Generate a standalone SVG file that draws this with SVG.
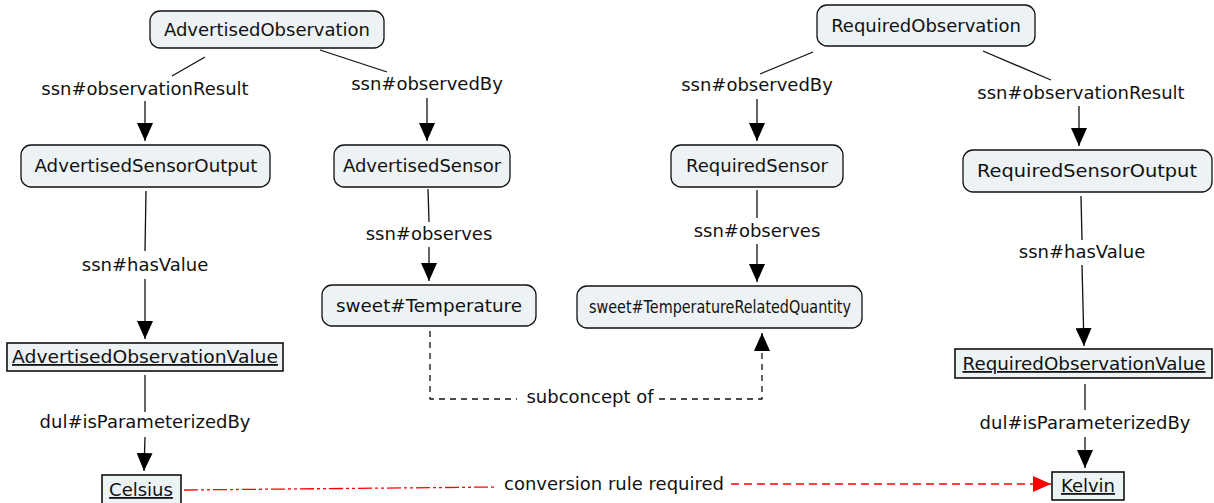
<svg xmlns="http://www.w3.org/2000/svg" width="1214" height="503" viewBox="0 0 1214 503">
<style>
text{font-family:"DejaVu Sans","Verdana",sans-serif;font-size:18px;fill:#111;text-anchor:middle}
.n{fill:#edf2f4;stroke:#111;stroke-width:1.3}
.v{fill:#edf2f4;stroke:#111;stroke-width:1.6}
.u{text-decoration:underline}
.l{stroke:#111;stroke-width:1.3;fill:none}
.d{stroke:#111;stroke-width:1.3;fill:none;stroke-dasharray:6 5}
.rd{stroke:#f00;stroke-width:1.3;fill:none;stroke-dasharray:8 5}
.rdd{stroke:#f00;stroke-width:1.3;fill:none;stroke-dasharray:14 3 3 3 3 3}
</style>
<defs>
<marker id="a" markerWidth="18" markerHeight="16" refX="18" refY="8" orient="auto" markerUnits="userSpaceOnUse"><path d="M0,0 L18,8 L0,16 Z" fill="#000"/></marker>
<marker id="ar" markerWidth="18" markerHeight="16" refX="18" refY="8" orient="auto" markerUnits="userSpaceOnUse"><path d="M0,0 L18,8 L0,16 Z" fill="#f00"/></marker>
</defs>
<g id="connectors">
<line class="l" x1="205" y1="57" x2="172" y2="76"/><text x="145" y="95">ssn#observationResult</text><line class="l" x1="145" y1="101" x2="145" y2="141" marker-end="url(#a)"/>
<line class="l" x1="320" y1="50" x2="387" y2="72"/><text x="427" y="90">ssn#observedBy</text><line class="l" x1="427" y1="98" x2="427" y2="141" marker-end="url(#a)"/>
<line class="l" x1="146" y1="191" x2="145" y2="251"/><text x="145" y="271">ssn#hasValue</text><line class="l" x1="145" y1="279" x2="145" y2="339" marker-end="url(#a)"/>
<line class="l" x1="145" y1="375" x2="145" y2="412"/><text x="145" y="428">dul#isParameterizedBy</text><line class="l" x1="145" y1="437" x2="144" y2="471" marker-end="url(#a)"/>
<line class="l" x1="428" y1="189" x2="429" y2="222"/><text x="429" y="240">ssn#observes</text><line class="l" x1="429" y1="247" x2="429" y2="281" marker-end="url(#a)"/>
<line class="l" x1="813" y1="52" x2="760" y2="74"/><text x="757" y="91">ssn#observedBy</text><line class="l" x1="757" y1="99" x2="757" y2="141" marker-end="url(#a)"/>
<line class="l" x1="983" y1="51" x2="1051" y2="80"/><text x="1081" y="99">ssn#observationResult</text><line class="l" x1="1079" y1="106" x2="1079" y2="146" marker-end="url(#a)"/>
<line class="l" x1="757" y1="190" x2="757" y2="218"/><text x="757" y="237">ssn#observes</text><line class="l" x1="757" y1="244" x2="757" y2="282" marker-end="url(#a)"/>
<line class="l" x1="1081" y1="196" x2="1082" y2="240"/><text x="1082" y="258">ssn#hasValue</text><line class="l" x1="1082" y1="265" x2="1084" y2="346" marker-end="url(#a)"/>
<line class="l" x1="1085" y1="384" x2="1085" y2="410"/><text x="1085" y="429">dul#isParameterizedBy</text><line class="l" x1="1085" y1="437" x2="1085" y2="468" marker-end="url(#a)"/>
<polyline class="d" points="430,331 430,399 517,399"/><text x="590" y="403">subconcept of</text><polyline class="d" points="659,399 762,399 762,333" marker-end="url(#a)"/>
<line class="rdd" x1="184" y1="490" x2="497" y2="487"/><text x="614" y="490">conversion rule required</text><line class="rd" x1="731" y1="484" x2="1051" y2="484" marker-end="url(#ar)"/>
</g>
<g id="AdvertisedObservation"><rect class="n" x="150" y="11" width="234" height="37" rx="10"/><text x="267" y="36">AdvertisedObservation</text></g>
<g id="AdvertisedSensorOutput"><rect class="n" x="21" y="145" width="249" height="42" rx="10"/><text x="146" y="172" textLength="223" lengthAdjust="spacingAndGlyphs">AdvertisedSensorOutput</text></g>
<g id="AdvertisedSensor"><rect class="n" x="334" y="145" width="176" height="42" rx="10"/><text x="422" y="172">AdvertisedSensor</text></g>
<g id="RequiredObservation"><rect class="n" x="817" y="5" width="218" height="41" rx="10"/><text x="926" y="32">RequiredObservation</text></g>
<g id="RequiredSensor"><rect class="n" x="671" y="145" width="172" height="42" rx="10"/><text x="757" y="172">RequiredSensor</text></g>
<g id="RequiredSensorOutput"><rect class="n" x="963" y="150" width="249" height="42" rx="10"/><text x="1087" y="177" textLength="220" lengthAdjust="spacingAndGlyphs">RequiredSensorOutput</text></g>
<g id="sweetTemperature"><rect class="n" x="322" y="285" width="214" height="41" rx="10"/><text x="429" y="312" textLength="186" lengthAdjust="spacingAndGlyphs">sweet#Temperature</text></g>
<g id="sweetTemperatureRelatedQuantity"><rect class="n" x="577" y="286" width="285" height="42" rx="10"/><text x="720" y="313" textLength="262" lengthAdjust="spacingAndGlyphs">sweet#TemperatureRelatedQuantity</text></g>
<g id="AdvertisedObservationValue"><rect class="v" x="7" y="343" width="276" height="28"/><text class="u" x="145" y="363" textLength="266" lengthAdjust="spacingAndGlyphs">AdvertisedObservationValue</text></g>
<g id="Celsius"><rect class="v" x="102" y="475" width="79" height="30"/><text class="u" x="141" y="496">Celsius</text></g>
<g id="RequiredObservationValue"><rect class="v" x="955" y="349" width="257" height="29"/><text class="u" x="1084" y="370" textLength="243" lengthAdjust="spacingAndGlyphs">RequiredObservationValue</text></g>
<g id="Kelvin"><rect class="v" x="1052" y="472" width="72" height="28"/><text class="u" x="1088" y="492">Kelvin</text></g>
</svg>
